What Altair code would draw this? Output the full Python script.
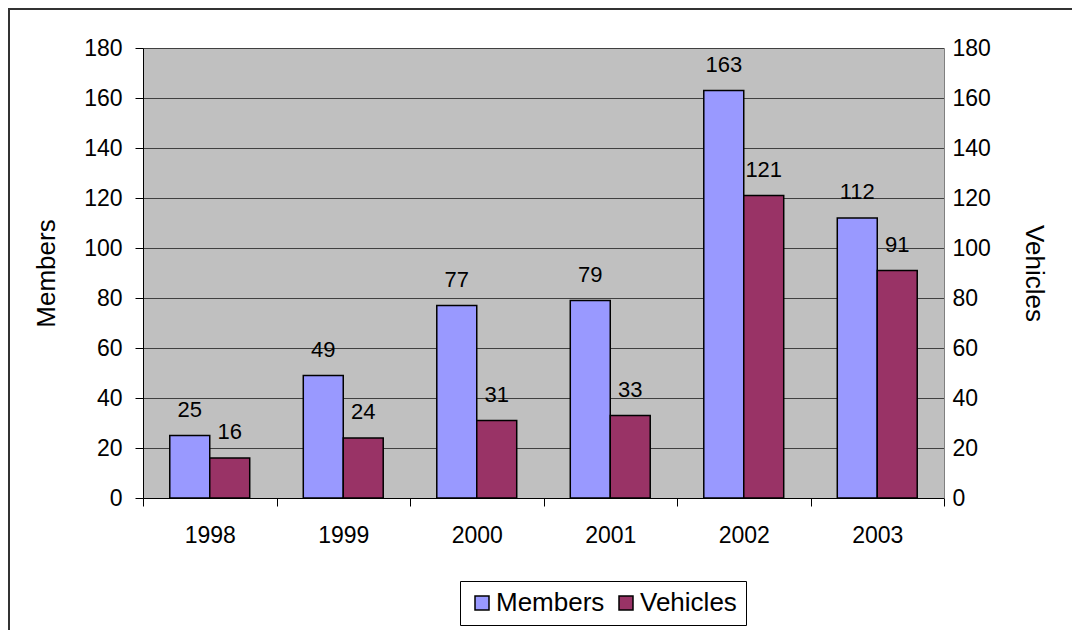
import altair as alt
import pandas as pd

years = ["1998", "1999", "2000", "2001", "2002", "2003"]
members = [25, 49, 77, 79, 163, 112]
vehicles = [16, 24, 31, 33, 121, 91]
series = ["Members", "Vehicles"]
colors = ["#9999FF", "#993366"]

rows = []
for i, y in enumerate(years):
    rows.append({"year": y, "series": "Members", "value": members[i]})
    rows.append({"year": y, "series": "Vehicles", "value": vehicles[i]})
df = pd.DataFrame(rows)
dfv = pd.DataFrame({"year": years, "vehicles": vehicles})

FONT = "Liberation Sans"

x_enc = alt.X("year:N", sort=years,
              scale=alt.Scale(paddingInner=0, paddingOuter=0),
              axis=alt.Axis(title=None, labelAngle=0, tickBand="extent", tickSize=8,
                            domainColor="black", tickColor="black", labelFontSize=23,
                            labelPadding=18, labelColor="black", grid=False))
xoff = alt.XOffset("series:N", sort=series,
                   scale=alt.Scale(paddingInner=0, paddingOuter=0.67))

one = pd.DataFrame({"a": [0]})
border_left = alt.Chart(one).mark_rule(color="#333333", strokeWidth=2).encode(
    x=alt.value(-134), y=alt.value(-40), y2=alt.value(800))
border_top = alt.Chart(one).mark_rule(color="#333333", strokeWidth=2).encode(
    x=alt.value(-135), x2=alt.value(1200), y=alt.value(-39))

bars = alt.Chart(df).mark_bar(stroke="black", strokeWidth=1.5).encode(
    x=x_enc,
    xOffset=xoff,
    y=alt.Y("value:Q", scale=alt.Scale(domain=[0, 180], nice=False),
            axis=alt.Axis(title="Members", values=list(range(0, 181, 20)), grid=True,
                          gridColor="#404040", gridWidth=1, domainColor="black",
                          tickColor="black", tickSize=8, labelPadding=13,
                          labelFontSize=23, titleFontSize=26, titleFontWeight="normal",
                          titlePadding=24, labelColor="black", titleColor="black")),
    color=alt.Color("series:N", sort=series,
                    scale=alt.Scale(domain=series, range=colors),
                    legend=alt.Legend(title=None, orient="none", legendX=317, legendY=533,
                                      direction="horizontal", symbolType="square",
                                      symbolSize=196, symbolStrokeColor="black",
                                      symbolStrokeWidth=1.5, labelFontSize=26,
                                      labelColor="black", labelOffset=1, columnPadding=8,
                                      padding=9, strokeColor="black", fillColor="white")),
)

labels = alt.Chart(df).mark_text(baseline="alphabetic", dy=-19, fontSize=22,
                                 color="black", font=FONT).encode(
    x=alt.X("year:N", sort=years),
    xOffset=alt.XOffset("series:N", sort=series),
    y=alt.Y("value:Q", scale=alt.Scale(domain=[0, 180], nice=False), axis=None),
    text="value:Q",
)

right = alt.Chart(dfv).mark_tick(opacity=0).encode(
    x=alt.X("year:N", sort=years),
    y=alt.Y("vehicles:Q", scale=alt.Scale(domain=[0, 180], nice=False),
            axis=alt.Axis(orient="right", title="Vehicles", values=list(range(0, 181, 20)),
                          grid=False, ticks=False, domainColor="#808080", labelPadding=8,
                          labelFontSize=23, titleFontSize=26, titleFontWeight="normal",
                          titleAngle=90, titlePadding=30, labelColor="black",
                          titleColor="black")),
)

chart = alt.layer(border_left, border_top, bars, labels, right).resolve_scale(
    y="independent").properties(
    width=801, height=450,
    autosize=alt.AutoSizeParams(type="none"),
    padding={"left": 135, "top": 40, "right": 128, "bottom": 132},
).configure(font=FONT).configure_view(fill="#C0C0C0", stroke=None).configure_axis(
    labelFont=FONT, titleFont=FONT
).configure_legend(labelFont=FONT)

chart.save("out.html", embed_options={"renderer": "svg", "actions": False})
